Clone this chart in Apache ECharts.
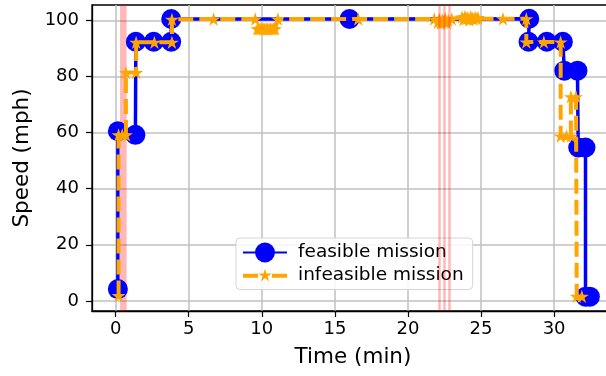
<!DOCTYPE html>
<html><head><meta charset="utf-8">
<script src="https://cdn.jsdelivr.net/npm/echarts@6/dist/echarts.min.js"></script>
<style>html,body{margin:0;padding:0;background:#fff}#c{width:606px;height:376px}</style>
</head><body><div id="c"></div>
<script>
// ---- data ----
const seriesNames = ['feasible mission', 'infeasible mission'];
const feasibleTime  = [0.15, 0.15, 1.35, 1.38, 2.6, 3.8, 3.8, 16.0, 28.3, 28.25, 29.5, 30.6, 30.7, 31.6, 31.65, 32.15, 32.15, 32.45];
const feasibleSpeed = [4.2, 60.5, 59.2, 92.4, 92.4, 92.4, 100.5, 100.5, 100.6, 92.4, 92.4, 92.4, 82.1, 82.1, 54.7, 54.7, 1.5, 1.5];
const infeasibleTime  = [0.2, 0.2, 0.45, 0.7, 0.7, 1.4, 1.4, 2.65, 3.85, 3.85, 6.7, 9.55,
  9.7, 9.8, 9.9, 10.0, 10.1, 10.2, 10.3, 10.4, 10.5, 10.6, 10.7, 10.8, 10.9, 11.1, 16.6, 21.8,
  22.05, 22.15, 22.25, 22.35, 22.45, 22.55, 22.65, 22.75, 23.0,
  23.7, 23.8, 23.9, 24.0, 24.1, 24.2, 24.3, 24.4, 24.5, 24.6, 24.7, 24.8,
  26.5, 28.1, 28.1, 29.3, 30.45, 30.45, 30.85, 31.15, 31.15, 31.5, 31.55, 31.9];
const infeasibleSpeed = [1.9, 59.2, 59.2, 59.2, 81.4, 81.4, 92.2, 92.2, 92.2, 100.4, 100.5, 100.5,
  97.0, 97.0, 97.0, 97.0, 97.0, 97.0, 97.0, 97.0, 97.0, 97.0, 97.0, 97.0, 97.0, 100.5, 100.5, 100.5,
  99.3, 100.4, 99.0, 100.2, 99.5, 100.6, 99.2, 100.0, 100.5,
  101.2, 100.3, 101.4, 100.6, 101.0, 100.2, 101.3, 100.8, 100.4, 101.1, 100.6, 101.0,
  100.6, 100.6, 92.3, 92.3, 92.3, 58.8, 58.8, 58.8, 72.8, 72.8, 1.6, 1.6];
const xTicks = [0, 5, 10, 15, 20, 25, 30];
const yTicks = [0, 20, 40, 60, 80, 100];
const markerBand = [0.3, 0.75];
const markerLines = [22.15, 22.47, 22.83];
const xRange = [-1.62, 34.1];
const yRange = [-3.6, 105.5];

// ---- chart ----
const FONT = 'DejaVu Sans';
const STAR = 'path://M0,-100 L22.45,-30.9 L95.1,-30.9 L36.3,11.8 L58.8,80.9 L0,38.2 L-58.8,80.9 L-36.3,11.8 L-95.1,-30.9 L-22.45,-30.9 Z';
const LEGEND_STAR = 'path://M0,10.5 L15,10.5 L15,14.5 L0,14.5 Z M29,10.5 L44,10.5 L44,14.5 L29,14.5 Z ' +
  'M22,5.5 L23.572,10.337 L28.657,10.337 L24.543,13.326 L26.116,18.163 L22,15.174 L17.884,18.163 L19.457,13.326 L15.343,10.337 L20.428,10.337 Z';

const pairs = (xs, ys) => xs.map((x, i) => [x, ys[i]]);

const chart = echarts.init(document.getElementById('c'), null, {renderer: 'canvas'});
const axisCommon = {
  axisLine: {show: true, onZero: false, lineStyle: {color: '#000', width: 1.3}},
  axisTick: {show: true, inside: false, length: 6, lineStyle: {color: '#000', width: 1.2}},
  splitLine: {show: true, lineStyle: {color: '#c0c0c0', width: 1.5}},
  nameTextStyle: {fontFamily: FONT, fontSize: 21.5, color: '#000'}
};
chart.setOption({
  animation: false,
  backgroundColor: '#fff',
  grid: {left: 92, top: 5, width: 522, height: 306, outerBoundsMode: 'none', containLabel: false,
    show: true, borderColor: '#000', borderWidth: 1.3, backgroundColor: 'transparent'},
  xAxis: Object.assign({}, axisCommon, {
    type: 'value', min: xRange[0], max: xRange[1],
    name: 'Time (min)', nameLocation: 'middle', nameGap: 35,
    axisTick: Object.assign({}, axisCommon.axisTick, {customValues: xTicks}),
    axisLabel: {customValues: xTicks, margin: 9, fontFamily: FONT, fontSize: 18, color: '#000'}
  }),
  yAxis: Object.assign({}, axisCommon, {
    type: 'value', min: yRange[0], max: yRange[1],
    name: 'Speed (mph)', nameLocation: 'middle', nameGap: 58, nameRotate: 90,
    axisTick: Object.assign({}, axisCommon.axisTick, {customValues: yTicks}),
    axisLabel: {customValues: yTicks, margin: 13, fontFamily: FONT, fontSize: 18, color: '#000'}
  }),
  legend: {
    orient: 'vertical', left: 236, top: 238,
    padding: [4.5, 9, 5, 6], itemGap: 3, itemWidth: 44, itemHeight: 25,
    backgroundColor: 'rgba(255,255,255,0.85)', borderColor: '#d5d5d5', borderWidth: 1, borderRadius: 4,
    textStyle: {fontFamily: FONT, fontSize: 18.5, color: '#000', padding: [0, 0, 0, 6]},
    data: [{name: seriesNames[0]}, {name: seriesNames[1], icon: LEGEND_STAR}]
  },
  series: [
    {
      type: 'line', name: '_markers', data: [], z: 1, silent: true,
      markArea: {silent: true, itemStyle: {color: 'rgba(255,0,0,0.28)'},
        data: [[{xAxis: markerBand[0]}, {xAxis: markerBand[1]}]]},
      markLine: {silent: true, symbol: ['none', 'none'], label: {show: false},
        lineStyle: {color: 'rgba(255,0,0,0.28)', width: 2.5, type: 'solid'},
        data: markerLines.map(v => ({xAxis: v}))}
    },
    {
      type: 'line', name: seriesNames[0], z: 2,
      data: pairs(feasibleTime, feasibleSpeed),
      symbol: 'circle', symbolSize: 20, showAllSymbol: true,
      itemStyle: {color: '#0000ff'},
      lineStyle: {color: '#0000ff', width: 3.5}
    },
    {
      type: 'line', name: seriesNames[1], z: 3,
      data: pairs(infeasibleTime, infeasibleSpeed),
      symbol: STAR, symbolSize: 14, symbolKeepAspect: true, showAllSymbol: true,
      itemStyle: {color: '#ffa500'},
      lineStyle: {color: '#ffa500', width: 4, type: [15, 6]}
    }
  ]
});
</script>
</body></html>
